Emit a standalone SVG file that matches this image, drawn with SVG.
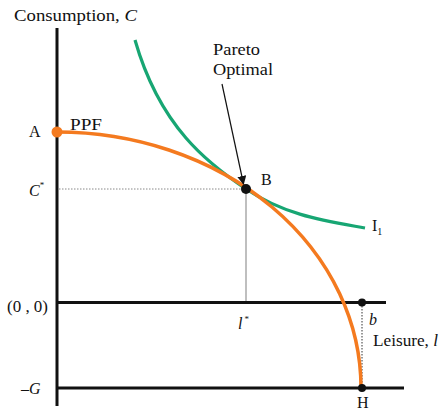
<svg xmlns="http://www.w3.org/2000/svg" width="441" height="410" viewBox="0 0 441 410">
<style>
text{font-family:"Liberation Serif","Times New Roman",serif;font-size:16px;fill:#111}
.it{font-style:italic}
.axis{stroke:#111;stroke-width:3;fill:none}
.ppf{stroke:#F47A1F;stroke-width:3.5;fill:none}
.ic{stroke:#17A673;stroke-width:3.2;fill:none}
</style>
<defs>
<marker id="ah" viewBox="0 0 10 10" refX="9" refY="5" markerWidth="9" markerHeight="9" markerUnits="userSpaceOnUse" orient="auto">
<path d="M0,0 L10,5 L0,10 z" fill="#111"/>
</marker>
</defs>
<rect width="441" height="410" fill="#fff"/>
<g id="axes">
<line class="axis" x1="57" y1="28" x2="57" y2="406"/>
<line class="axis" x1="57" y1="302.5" x2="386" y2="302.5"/>
<line class="axis" x1="57" y1="388" x2="404" y2="388"/>
</g>
<g id="guides">
<line x1="59" y1="189" x2="246" y2="189" stroke="#888" stroke-width="1" stroke-dasharray="1.5,1.5"/>
<line x1="246" y1="189" x2="246" y2="301" stroke="#aaa" stroke-width="1.5"/>
<line x1="362" y1="303" x2="362" y2="388" stroke="#333" stroke-width="1" stroke-dasharray="1.5,1.5"/>
</g>
<g id="I1">
<path class="ic" d="M135,40 C160,127.5 209,164.3 246,189 C286,215.7 325,220.8 365,228"/>
<text x="372" y="231">I<tspan font-size="10" dy="4">1</tspan></text>
</g>
<g id="PPF">
<path class="ppf" d="M57,132 A304,256 0 0 1 361,388"/>
<text x="70" y="130" textLength="32" lengthAdjust="spacingAndGlyphs">PPF</text>
</g>
<g id="A">
<circle cx="57" cy="132" r="5.5" fill="#F47A1F"/>
<text x="29" y="137">A</text>
</g>
<g id="B">
<circle cx="246" cy="189" r="5" fill="#111"/>
<text x="261" y="185">B</text>
</g>
<g id="b">
<circle cx="362" cy="302.5" r="4" fill="#111"/>
<text class="it" x="369" y="325">b</text>
</g>
<g id="H">
<circle cx="362" cy="388" r="4" fill="#111"/>
<text x="357" y="408">H</text>
</g>
<g id="connectors">
<line x1="222" y1="84" x2="243.5" y2="184" stroke="#111" stroke-width="1.2" marker-end="url(#ah)"/>
</g>
<g id="labels">
<text x="14" y="21" textLength="123" lengthAdjust="spacingAndGlyphs">Consumption, <tspan class="it">C</tspan></text>
<text x="213" y="55" textLength="47" lengthAdjust="spacingAndGlyphs">Pareto</text>
<text x="213" y="75" textLength="60" lengthAdjust="spacingAndGlyphs">Optimal</text>
<text class="it" x="29" y="196">C<tspan font-size="9" dy="-8" font-style="normal">*</tspan></text>
<text x="7" y="312" textLength="41" lengthAdjust="spacingAndGlyphs">(0 , 0)</text>
<text class="it" x="238" y="329">l<tspan font-size="9" dy="-7" dx="2" font-style="normal">*</tspan></text>
<text x="373" y="346" textLength="65" lengthAdjust="spacingAndGlyphs">Leisure, <tspan class="it">l</tspan></text>
<text x="21" y="394">–<tspan class="it">G</tspan></text>
</g>
</svg>
